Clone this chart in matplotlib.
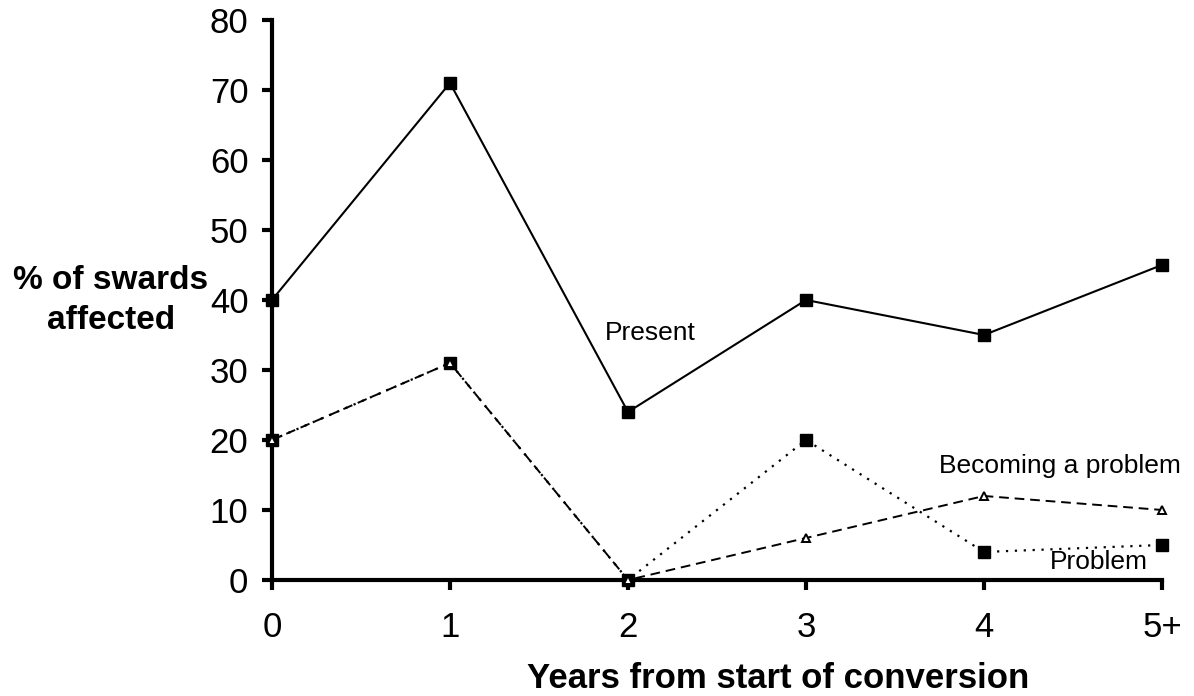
import matplotlib
matplotlib.use('Agg')
import matplotlib.pyplot as plt

plt.rcParams['font.family'] = ['Liberation Sans', 'DejaVu Sans']

years = ['0', '1', '2', '3', '4', '5+']
present = [40, 71, 24, 40, 35, 45]
problem = [20, 31, 0, 20, 4, 5]
becoming = [20, 31, 0, 6, 12, 10]

x = list(range(len(years)))

fig = plt.figure(figsize=(11.94, 6.96), dpi=100)
ax = fig.add_axes([0.2278, 0.1667, 0.7454, 0.8046])

ax.plot(x, present, color='black', lw=1.5, marker='s', ms=8, mfc='black', mec='black', clip_on=False, zorder=3)
ax.plot(x, problem, color='black', lw=1.6, ls=(0, (1, 3)), marker='s', ms=8, mfc='black', mec='black', clip_on=False, zorder=3)
ax.plot(x, becoming, color='black', lw=1.4, ls=(0, (5, 3)), marker='^', ms=6, mfc='white', mec='black', mew=1.4, clip_on=False, zorder=4)

ax.text(1.87, 35.3, 'Present', fontsize=19, va='center', ha='left')
ax.text(3.75, 16.3, 'Becoming a problem', fontsize=19, va='center', ha='left')
ax.text(4.37, 2.6, 'Problem', fontsize=19, va='center', ha='left')

ax.set_xlim(0, 5)
ax.set_ylim(0, 80)
ax.set_xticks(x)
ax.set_xticklabels(years)
ax.set_yticks(range(0, 81, 10))
ax.tick_params(axis='both', labelsize=25, width=3, length=7, direction='out')
ax.tick_params(axis='y', pad=10)
ax.tick_params(axis='x', pad=15)
for s in ['top', 'right']:
    ax.spines[s].set_visible(False)
for s in ['left', 'bottom']:
    ax.spines[s].set_linewidth(3)

fig.text(0.652, 0.0115, 'Years from start of conversion', fontsize=25, fontweight='bold',
         ha='center', va='baseline')
fig.text(0.093, 0.568, '% of swards\naffected', fontsize=24, fontweight='bold',
         ha='center', va='center', linespacing=1.35)

fig.savefig('out.png', dpi=100)
